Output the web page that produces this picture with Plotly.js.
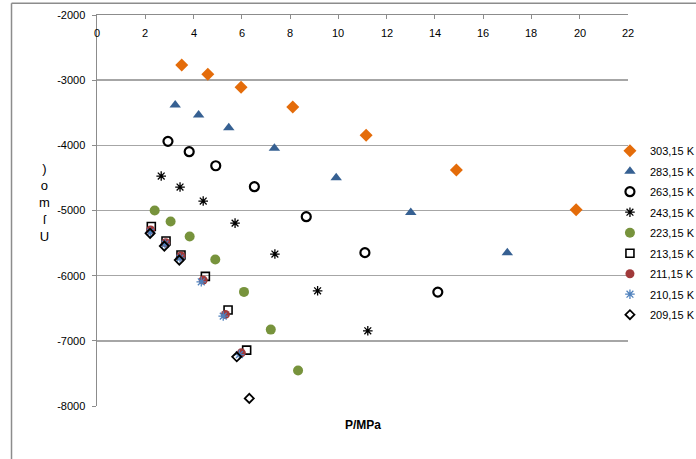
<!DOCTYPE html>
<html>
<head>
<meta charset="utf-8">
<script src="https://cdn.plot.ly/plotly-3.0.1.min.js"></script>
<style>
html,body{margin:0;padding:0;background:#fff;}
#chart{width:696px;height:459px;}
</style>
</head>
<body>
<div id="chart"></div>
<script>
// Series names
const seriesNames = ["303,15 K","283,15 K","263,15 K","243,15 K","223,15 K","213,15 K","211,15 K","210,15 K","209,15 K"];

// P/MPa values per series
const p303 = [3.51, 4.59, 5.97, 8.11, 11.15, 14.89, 19.85];
const p283 = [3.24, 4.21, 5.46, 7.35, 9.91, 13.00, 17.00];
const p263 = [2.94, 3.82, 4.92, 6.52, 8.67, 11.10, 14.12];
const p243 = [2.66, 3.44, 4.40, 5.72, 7.37, 9.14, 11.22];
const p223 = [2.39, 3.05, 3.84, 4.90, 6.09, 7.20, 8.33];
const p213 = [2.25, 2.86, 3.48, 4.49, 5.43, 6.20];
const p211 = [2.22, 2.85, 3.48, 4.40, 5.32, 5.98];
const p210 = [2.21, 2.82, 3.44, 4.32, 5.23, 5.90];
const p209 = [2.20, 2.79, 3.41, 5.79, 6.31];

// y values per series
const h303 = [-2767, -2910, -3110, -3412, -3846, -4379, -4988];
const h283 = [-3381, -3535, -3730, -4046, -4498, -5029, -5649];
const h263 = [-3939, -4098, -4313, -4635, -5095, -5647, -6252];
const h243 = [-4471, -4640, -4855, -5193, -5668, -6232, -6846];
const h223 = [-5000, -5169, -5399, -5752, -6249, -6828, -7454];
const h213 = [-5246, -5469, -5684, -6011, -6528, -7142];
const h211 = [-5300, -5495, -5699, -6068, -6594, -7184];
const h210 = [-5331, -5515, -5730, -6094, -6620, -7211];
const h209 = [-5351, -5546, -5761, -7245, -7883];

// Axis ticks
const xTicks = [0,2,4,6,8,10,12,14,16,18,20,22];
const yTicks = [-8000,-7000,-6000,-5000,-4000,-3000,-2000];

const xs = [p303,p283,p263,p243,p223,p213,p211,p210,p209];
const ys = [h303,h283,h263,h243,h223,h213,h211,h210,h209];
const markers = [
  {symbol:"diamond", size:10, color:"#E46C0A"},
  {symbol:"triangle-up", size:10, color:"#366092"},
  {symbol:"circle-open", size:9, color:"#000000", line:{width:2.2, color:"#000000"}},
  {symbol:"asterisk-open", size:8, color:"#000000", line:{width:1.3, color:"#000000"}},
  {symbol:"circle", size:10, color:"#77933C"},
  {symbol:"square-open", size:8, color:"#000000", line:{width:1.6, color:"#000000"}},
  {symbol:"circle", size:9, color:"#A0393A"},
  {symbol:"asterisk-open", size:8, color:"#4F81BD", line:{width:1.3, color:"#4F81BD"}},
  {symbol:"diamond-open", size:7, color:"#000000", line:{width:1.8, color:"#000000"}}
];

const traces = seriesNames.map((n,i)=>({
  type:"scatter", mode:"markers", name:n, x:xs[i], y:ys[i],
  marker: markers[i], legendgroup:"g"+i
}));

const xLabelAnns = xTicks.map(v=>({
  text:String(v), xref:"x", yref:"paper", x:v, y:0.954, showarrow:false,
  font:{size:11, color:"#000"}, xanchor:"center", yanchor:"middle"
}));

const layout = {
  width:696, height:459,
  margin:{l:97, r:68, t:15, b:53, autoexpand:false},
  paper_bgcolor:"#ffffff", plot_bgcolor:"#ffffff",
  font:{family:"Liberation Sans, Arial, sans-serif", size:11, color:"#000"},
  showlegend:true,
  legend:{x:0.966, xanchor:"left", y:0.69, yanchor:"top", font:{size:11, color:"#000"},
          bgcolor:"rgba(0,0,0,0)", tracegroupgap:1.5, itemwidth:30},
  xaxis:{range:[0,22], side:"top", tickvals:xTicks, showticklabels:false,
         ticks:"inside", ticklen:4, tickcolor:"#8c8c8c",
         showline:true, linecolor:"#8c8c8c", linewidth:1.5, showgrid:false, zeroline:false,
         fixedrange:true},
  yaxis:{range:[-8000,-2000], tickvals:yTicks, ticktext:yTicks.map(String),
         ticks:"outside", ticklen:4, tickcolor:"#8c8c8c", ticklabelstandoff:4,
         showline:true, linecolor:"#8c8c8c", linewidth:1.5,
         showgrid:true, gridcolor:"#a6a6a6", gridwidth:1.5, zeroline:false, fixedrange:true},
  annotations:[
    {text:"<b>P/MPa</b>", xref:"paper", yref:"paper", x:0.5, y:-0.049, showarrow:false,
     font:{size:12, color:"#000"}, xanchor:"center", yanchor:"middle"},
    {text:")<br>o<br>m<br>ſ<br>U", xref:"paper", yref:"paper", x:-0.098, y:0.52, showarrow:false,
     font:{size:13, color:"#000"}, xanchor:"center", yanchor:"middle"}
  ].concat(xLabelAnns),
  shapes:[
    {type:"line", xref:"paper", yref:"paper", x0:-0.161, x1:-0.161, y0:1.03, y1:-0.2,
     line:{color:"#8c8c8c", width:1.5}},
    {type:"line", xref:"paper", yref:"paper", x0:-0.161, x1:1.2, y0:1.03, y1:1.03,
     line:{color:"#8c8c8c", width:1.5}}
  ]
};

Plotly.newPlot("chart", traces, layout, {displayModeBar:false, staticPlot:true});
</script>
</body>
</html>
